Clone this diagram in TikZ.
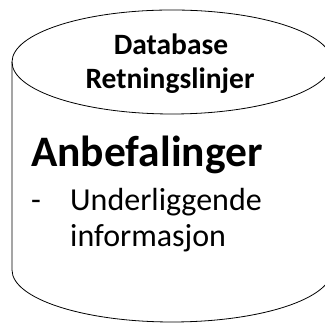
\documentclass[tikz,border=0pt]{standalone}
\usepackage{fontspec}
\setmainfont{Carlito}
\begin{document}
\begin{tikzpicture}[x=1pt,y=1pt,
  dbline/.style={black,line width=0.8pt},
  headtext/.style={font=\fontsize{29.5}{35}\selectfont\bfseries,anchor=base,inner sep=0pt},
  bigtext/.style={font=\fontsize{43.5}{52}\selectfont\bfseries,anchor=base west,inner sep=0pt},
  bodytext/.style={font=\fontsize{32}{38}\selectfont,anchor=base west,inner sep=0pt}]
\useasboundingbox (0,0) rectangle (325,323);
\clip (0,0) rectangle (325,323);
\draw[dbline] (172,261) ellipse [x radius=160pt, y radius=52pt];
\draw[dbline] (12,261) -- (12,53) arc [start angle=180, end angle=360, x radius=160pt, y radius=52pt] -- (332,261);
\node[headtext] (dbname) at (171,268) {Database};
\node[headtext] (dbsub) at (170,234) {Retningslinjer};
\node[bigtext] (rec) at (31,156) {Anbefalinger};
\node[bodytext] (dash) at (31,112) {-};
\node[bodytext] (info1) at (70,112) {Underliggende};
\node[bodytext] (info2) at (70,76) {informasjon};
\end{tikzpicture}
\end{document}
